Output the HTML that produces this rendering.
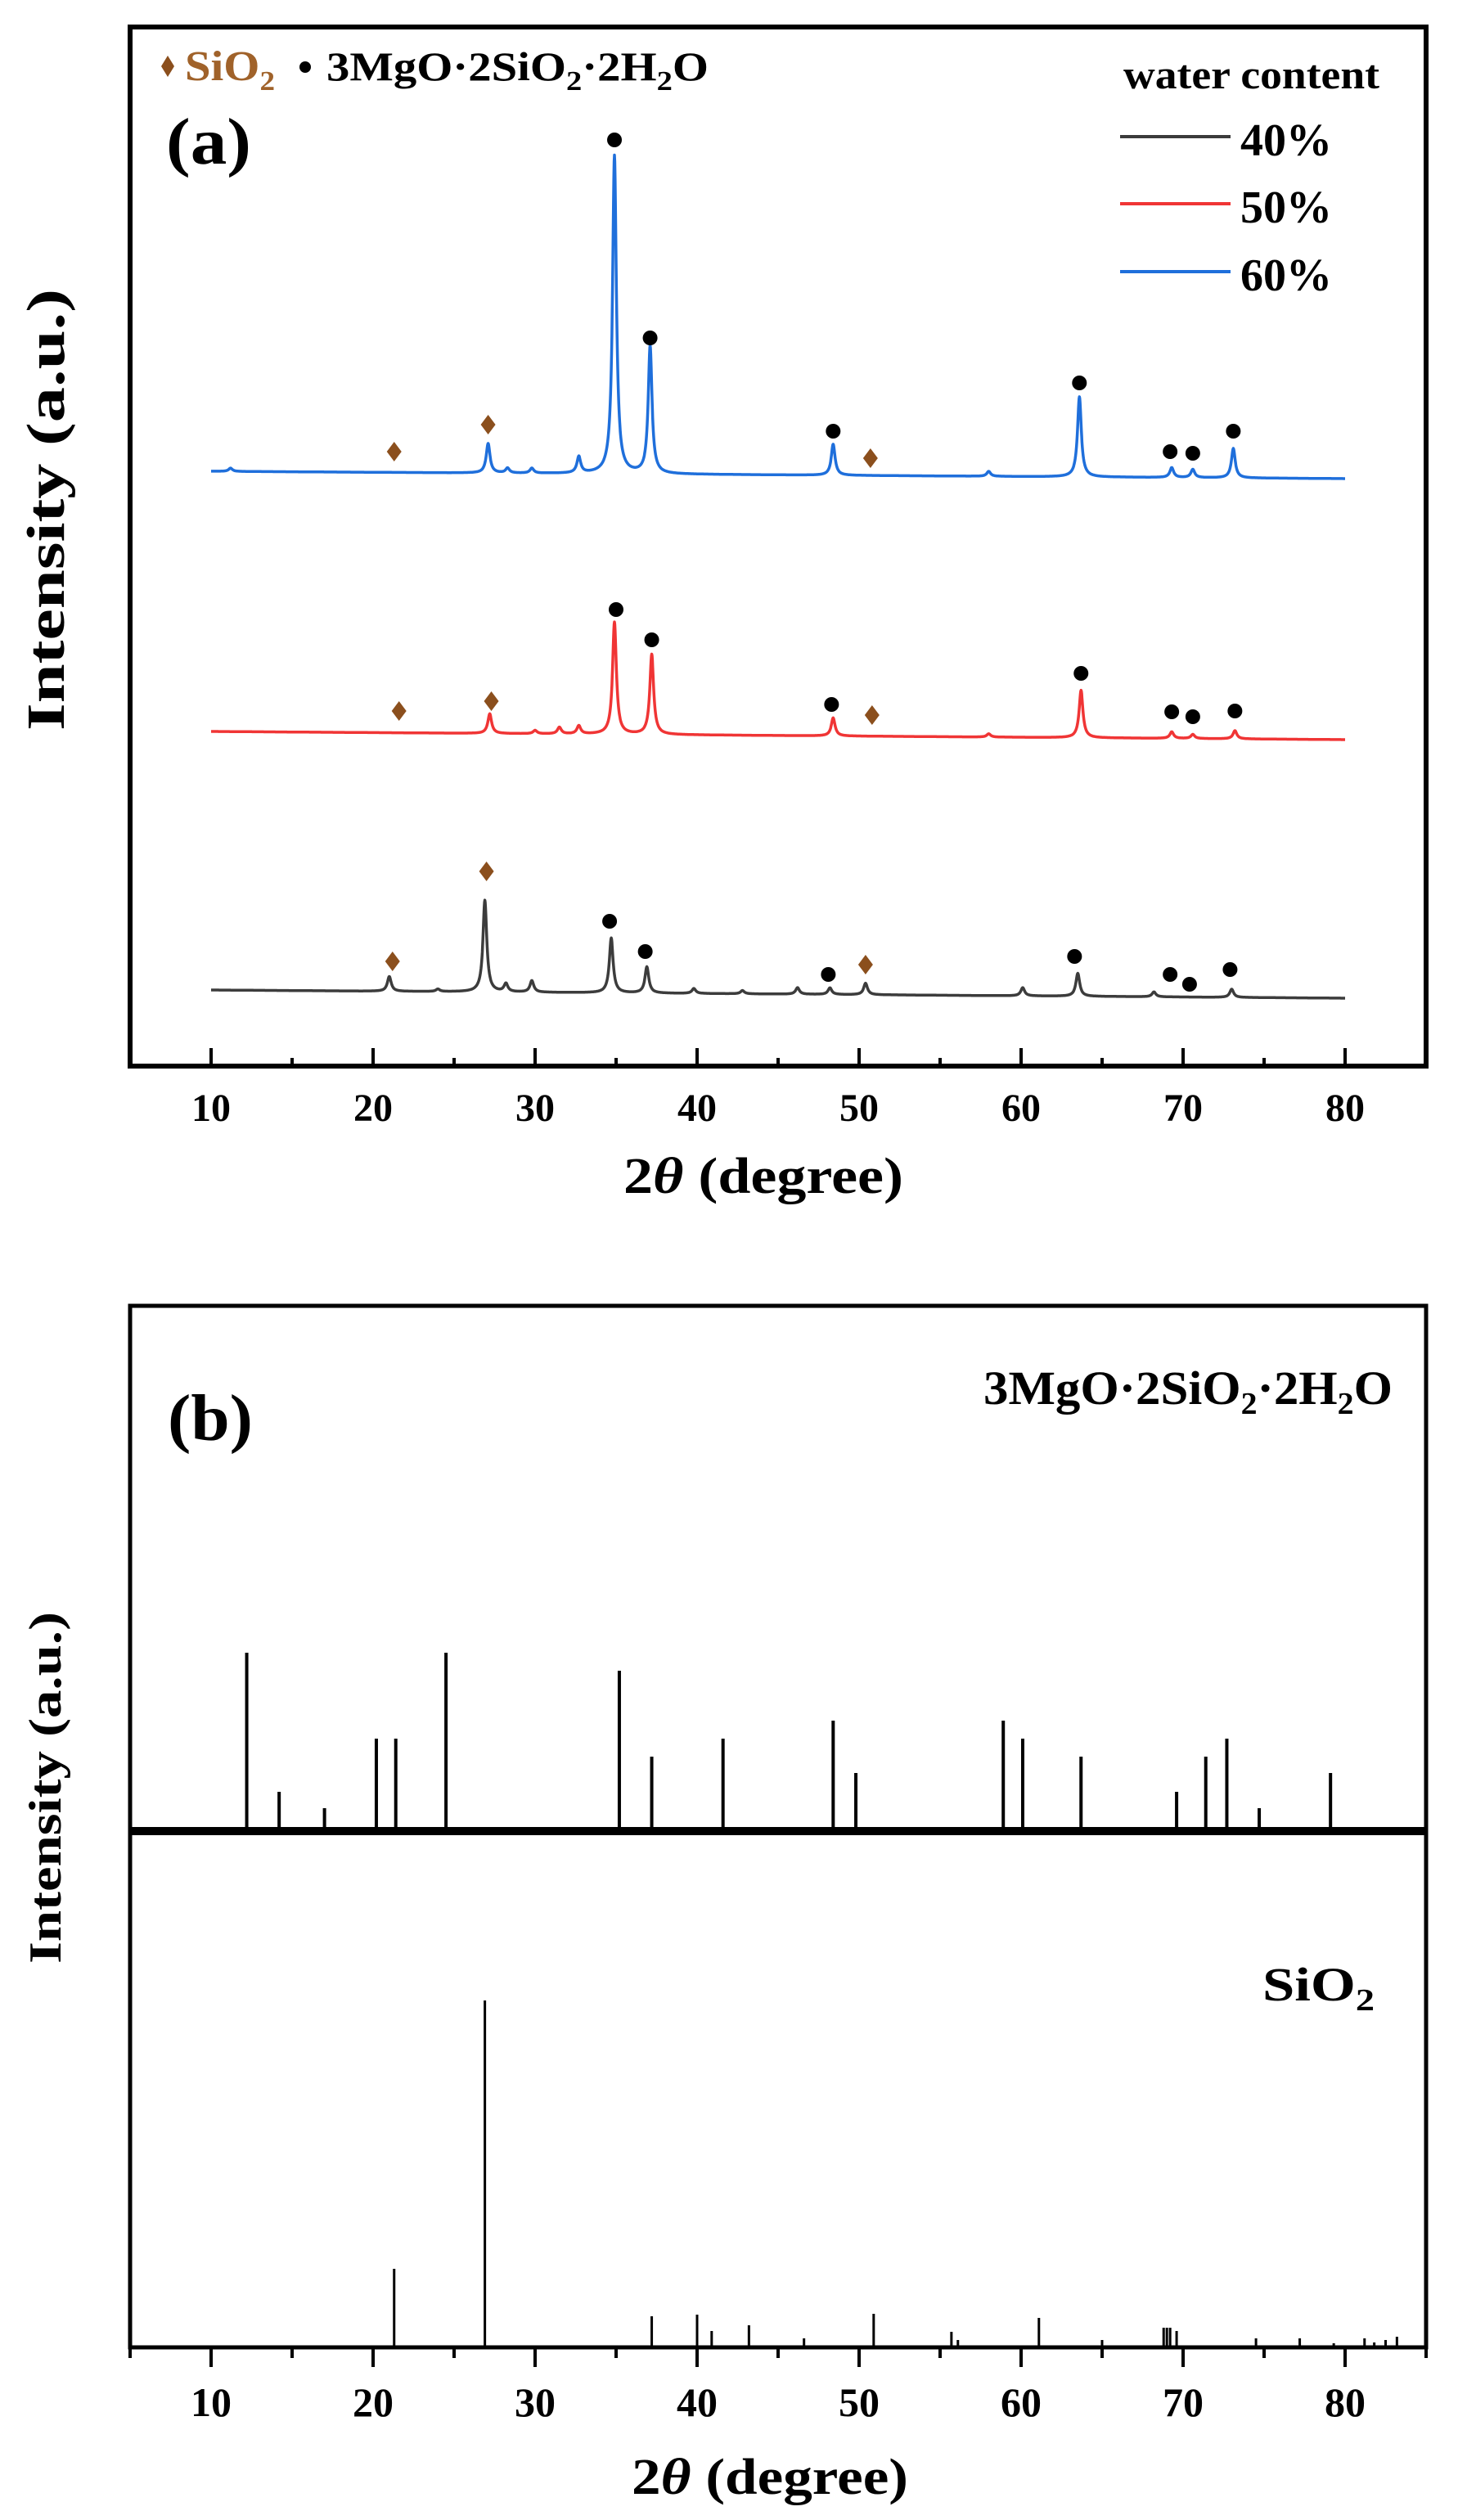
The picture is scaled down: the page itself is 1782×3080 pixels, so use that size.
<!DOCTYPE html>
<html><head><meta charset="utf-8"><style>
html,body{margin:0;padding:0;background:#fff}
svg{display:block}
text{font-family:"Liberation Serif",serif;font-weight:bold}
</style></head><body>
<svg id="fig" width="1782" height="3080" viewBox="0 0 1782 3080" xmlns="http://www.w3.org/2000/svg">
<g id="pa"></g>
<g id="pb"></g>
</svg>
<script>
// ---------- Panel (a) data ----------
const xTicks = [10,20,30,40,50,60,70,80];
const seriesNames = ['40%','50%','60%'];
const seriesColors = ['#3c3c3c','#f03535','#1f6fdb'];
const baseStart = [93,409,727];
const baseEnd = [83,399,718];
const peaks40pos = [21.0,24.0,26.9,28.2,29.8,34.7,36.9,39.8,42.8,46.2,48.2,50.4,60.1,63.5,68.2,73.0];
const peaks40h   = [18,3,112,10,14,67,32,6,4,8,8,14,10,28,6,10];
const peaks50pos = [27.2,30.0,31.5,32.7,34.9,37.2,48.4,58.0,63.7,69.3,70.6,73.2];
const peaks50h   = [24,4,8,10,137,98,22,4,58,8,5,10];
const peaks60pos = [11.2,27.1,28.3,29.8,32.7,34.9,37.1,48.4,58.0,63.6,69.3,70.6,73.1];
const peaks60h   = [4,36,6,6,20,389,156,38,6,98,12,10,36];
const diaPos40 = [21.2,27.0,50.4], diaVal40 = [128,238,124];
const dotPos40 = [34.6,36.8,48.1,63.3,69.2,70.4,72.9], dotVal40 = [177,140,112,134,112,100,118];
const diaPos50 = [21.6,27.3,50.8], diaVal50 = [434,446,429];
const dotPos50 = [35.0,37.2,48.3,63.7,69.3,70.6,73.2], dotVal50 = [558,521,442,480,433,427,434];
const diaPos60 = [21.3,27.1,50.7], diaVal60 = [751,784,743];
const dotPos60 = [34.9,37.1,48.4,63.6,69.2,70.6,73.1], dotVal60 = [1132,890,776,835,751,749,776];
// ---------- Panel (b) data ----------
const talcPos = [12.2,14.2,17.0,20.2,21.4,24.5,35.2,37.2,41.6,48.4,49.8,58.9,60.1,63.7,69.6,71.4,72.7,74.7,79.1];
const talcInt = [218,48,28,113,113,218,196,91,113,135,71,135,113,91,48,91,113,28,71];
const sioPos = [21.3,26.9,37.2,40.0,40.9,43.2,46.6,50.9,55.7,56.1,61.1,65.0,68.8,69.0,69.2,69.6,74.5,77.2,79.3,81.2,81.8,82.5,83.2];
const sioInt = [96,424,38,40,20,27,11,41,19,9,36,9,24,24,24,20,11,11,5,11,6,9,13];

const NS='http://www.w3.org/2000/svg';
function mk(parent,tag,attrs){const e=document.createElementNS(NS,tag);for(const k in attrs)e.setAttribute(k,attrs[k]);parent.appendChild(e);return e;}
const X0=159,X1=1743;
function xs(d){return X0+(d-5)*(X1-X0)/80;}
const pa=document.getElementById('pa'), pb=document.getElementById('pb');

// ===== Panel a =====
const A_TOP=33,A_BOT=1303;
function ya(v){return A_BOT-v;}
const pkPos=[peaks40pos,peaks50pos,peaks60pos], pkH=[peaks40h,peaks50h,peaks60h];
for(let s=0;s<3;s++){
  let d='';
  for(let t=10;t<=80.0001;t+=0.02){
    let v=baseStart[s]+(baseEnd[s]-baseStart[s])*(t-10)/70;
    for(let i=0;i<pkPos[s].length;i++){const w=0.14;const u=(t-pkPos[s][i])/w;v+=pkH[s][i]/(1+u*u);}
    d+=(d?'L':'M')+xs(t).toFixed(1)+','+ya(v).toFixed(1);
  }
  const p=mk(pa,'path',{d:d,fill:'none',stroke:seriesColors[s],'stroke-width':3.5,'stroke-linejoin':'round'});
  
  
}
const dia=[[diaPos40,diaVal40],[diaPos50,diaVal50],[diaPos60,diaVal60]];
const dots=[[dotPos40,dotVal40],[dotPos50,dotVal50],[dotPos60,dotVal60]];
for(let s=0;s<3;s++){
  dia[s][0].forEach((p,i)=>{const cx=xs(p),cy=ya(dia[s][1][i]);
    const e=mk(pa,'polygon',{points:`${cx},${cy-12} ${cx+9},${cy} ${cx},${cy+12} ${cx-9},${cy}`,fill:'#8b4f1d'});
    
    });
  dots[s][0].forEach((p,i)=>{
    const e=mk(pa,'circle',{cx:xs(p),cy:ya(dots[s][1][i]),r:9,fill:'#000'});
    
    });
}
let fa=mk(pa,'rect',{x:X0,y:A_TOP,width:X1-X0,height:A_BOT-A_TOP,fill:'none',stroke:'#000','stroke-width':6});


for(let t=5;t<=85;t+=5){
  if(t===5||t===85)continue;
  const major=t%10===0;
  mk(pa,'line',{x1:xs(t),x2:xs(t),y1:A_BOT,y2:A_BOT-(major?22:10),stroke:'#000','stroke-width':4});
}
xTicks.forEach(t=>{const e=mk(pa,'text',{x:xs(t),y:1370,'font-size':48,'text-anchor':'middle'});e.textContent=t;
  
  });
</script>
<script>
(function(){
const pa=document.getElementById('pa');
pa.insertAdjacentHTML('beforeend',`
<text x="762" y="1458" font-size="62" textLength="342" lengthAdjust="spacingAndGlyphs">2<tspan font-style="italic">θ</tspan> (degree)</text>
<text transform="translate(78,623) rotate(-90)" font-size="66" text-anchor="middle" textLength="540" lengthAdjust="spacingAndGlyphs">Intensity (a.u.)</text>
<text x="203" y="200" font-size="80" textLength="104" lengthAdjust="spacingAndGlyphs">(a)</text>
<g>
<polygon points="205,68 213,81 205,94 197,81" fill="#8b4f1d"/>
<text x="226" y="98" font-size="52" fill="#a0622a" textLength="110" lengthAdjust="spacingAndGlyphs">SiO<tspan font-size="34" dy="12">2</tspan></text>
<circle cx="373" cy="82" r="7" fill="#000"/>
<text x="399" y="98" font-size="50" textLength="467" lengthAdjust="spacingAndGlyphs">3MgO·2SiO<tspan font-size="34" dy="12">2</tspan><tspan dy="-12">·2H</tspan><tspan font-size="34" dy="12">2</tspan><tspan dy="-12">O</tspan></text>
</g>
<g>
<text x="1373" y="108" font-size="50" textLength="313" lengthAdjust="spacingAndGlyphs">water content</text>
<line x1="1369" x2="1504" y1="167" y2="167" stroke="#3c3c3c" stroke-width="4"/>
<text x="1516" y="190" font-size="56">40%</text>
<line x1="1369" x2="1504" y1="249" y2="249" stroke="#f03535" stroke-width="4"/>
<text x="1516" y="272" font-size="56">50%</text>
<line x1="1369" x2="1504" y1="332" y2="332" stroke="#1f6fdb" stroke-width="4"/>
<text x="1516" y="355" font-size="56">60%</text>
</g>`);
})();
</script>
<script>
(function(){
const B_TOP=1596,B_MID=2238,B_BOT=2869;
function yt(v){return B_MID-v;}
function yb(v){return B_BOT-v;}
const pb=document.getElementById('pb');
talcPos.forEach((p,i)=>{
  const e=mk(pb,'line',{x1:xs(p),x2:xs(p),y1:B_MID,y2:yt(talcInt[i]),stroke:'#000','stroke-width':4});
  
  
});
sioPos.forEach((p,i)=>{
  const e=mk(pb,'line',{x1:xs(p),x2:xs(p),y1:B_BOT,y2:yb(sioInt[i]),stroke:'#000','stroke-width':3});
  
  
});
const fr=mk(pb,'rect',{x:X0,y:B_TOP,width:X1-X0,height:B_BOT-B_TOP,fill:'none',stroke:'#000','stroke-width':5});


const dv=mk(pb,'line',{x1:X0,x2:X1,y1:B_MID,y2:B_MID,stroke:'#000','stroke-width':10});


for(let t=5;t<=85;t+=5){
  const major=t%10===0;
  mk(pb,'line',{x1:xs(t),x2:xs(t),y1:B_BOT,y2:B_BOT+(major?24:13),stroke:'#000','stroke-width':4});
}
xTicks.forEach(t=>{const e=mk(pb,'text',{x:xs(t),y:2953,'font-size':50,'text-anchor':'middle'});e.textContent=t;
  
  });
pb.insertAdjacentHTML('beforeend',`
<text x="772" y="3048" font-size="62" textLength="338" lengthAdjust="spacingAndGlyphs">2<tspan font-style="italic">θ</tspan> (degree)</text>
<text transform="translate(74,2185) rotate(-90)" font-size="56" text-anchor="middle" textLength="430" lengthAdjust="spacingAndGlyphs">Intensity (a.u.)</text>
<text x="205" y="1760" font-size="80" textLength="104" lengthAdjust="spacingAndGlyphs">(b)</text>
<text x="1202" y="1716" font-size="58" textLength="500" lengthAdjust="spacingAndGlyphs">3MgO·2SiO<tspan font-size="38" dy="12">2</tspan><tspan dy="-12">·2H</tspan><tspan font-size="38" dy="12">2</tspan><tspan dy="-12">O</tspan></text>
<text x="1543" y="2445" font-size="58" textLength="137" lengthAdjust="spacingAndGlyphs">SiO<tspan font-size="38" dy="12">2</tspan></text>`);
})();
</script>
</body></html>
